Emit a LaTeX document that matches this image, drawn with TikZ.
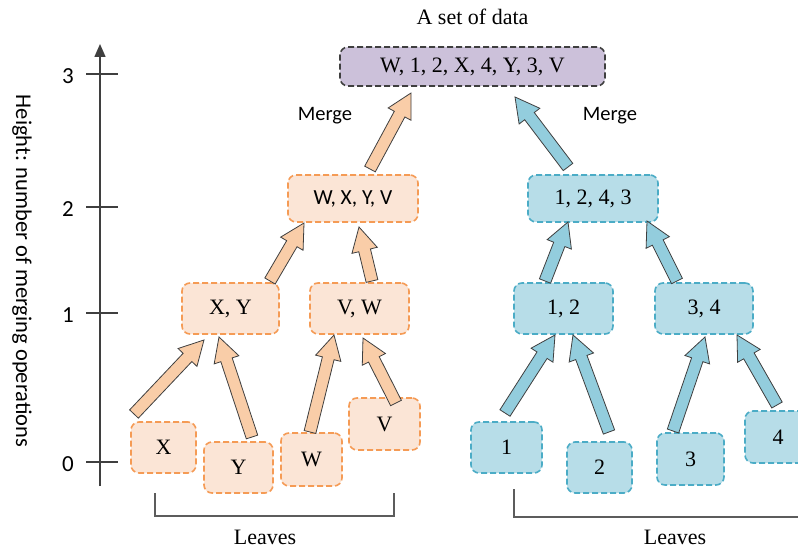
\documentclass[tikz,border=0pt]{standalone}
\usepackage{fontspec}
\setmainfont{Liberation Serif}
\newfontfamily\calfont{Carlito}
\usetikzlibrary{calc,arrows.meta}
\definecolor{orfill}{HTML}{FBE5D6}
\definecolor{ordraw}{HTML}{F59B55}
\definecolor{orarrow}{HTML}{F9CDA8}
\definecolor{blfill}{HTML}{B7DDE8}
\definecolor{bldraw}{HTML}{4BACC6}
\definecolor{blarrow}{HTML}{93CDDD}
\definecolor{pufill}{HTML}{CCC1DA}
\definecolor{darkline}{HTML}{3F3F3F}
\newcommand{\blockarrow}[3]{%
  \coordinate (bah) at ($(#3)!24pt!(#2)$);
  \draw[#1] ($(#2)!6pt!90:(#3)$) -- ($(bah)!6pt!90:(#3)$) -- ($(bah)!13pt!90:(#3)$) -- (#3)
    -- ($(bah)!13pt!-90:(#3)$) -- ($(bah)!6pt!-90:(#3)$) -- ($(#2)!6pt!-90:(#3)$) -- cycle;
}
\begin{document}
\begin{tikzpicture}[x=1pt,y=-1pt,
  box/.style={rounded corners=8pt, dash pattern=on 6pt off 3pt, line width=1.6pt, inner sep=0pt,
    font=\fontsize{22}{26}\selectfont},
  obox/.style={box, fill=orfill, draw=ordraw},
  bbox/.style={box, fill=blfill, draw=bldraw},
  pbox/.style={box, fill=pufill, draw=darkline},
  oarrow/.style={fill=orarrow, draw=darkline, line width=0.8pt},
  barrow/.style={fill=blarrow, draw=darkline, line width=0.8pt},
  serif/.style={font=\fontsize{22}{26}\selectfont},
  sans/.style={font=\calfont\fontsize{20.5}{24}\selectfont},
  ticklab/.style={font=\calfont\fontsize{23}{26}\selectfont},
  axlab/.style={font=\calfont\fontsize{22.5}{26}\selectfont},
  axisline/.style={draw=darkline, line width=1.5pt},
  bracket/.style={draw=darkline!85, line width=1.4pt}]
\clip (0,0) rectangle (798,548);
\fill[white] (0,0) rectangle (798,548);

% axis
\coordinate (axb) at (100,486);
\coordinate (axt) at (100,44);
\draw[axisline, -{Triangle[width=11pt,length=13pt]}] (axb) -- (axt);
\foreach \yy/\lab in {74/3, 207/2, 313/1, 462/0} {
  \coordinate (tl\lab) at (86,\yy);
  \coordinate (tr\lab) at (118,\yy);
  \draw[axisline] (tl\lab) -- (tr\lab);
  \node[ticklab, anchor=center] (tk\lab) at (68,\yy+2) {\lab};
}
\node[axlab, rotate=-90] (ylab) at (22,271) {Height: number of merging operations};

% title and labels
\node[serif] (title) at (472.5,17) {A set of data};
\node[sans] (mergeL) at (325,116) {Merge};
\node[sans] (mergeR) at (610,116) {Merge};

% top
\node[pbox, minimum width=265pt, minimum height=39pt] (top) at (472.5,66.5) {W, 1, 2, X, 4, Y, 3, V};

% level 2
\node[obox, minimum width=130pt, minimum height=47pt, font=\calfont\fontsize{21.5}{25}\selectfont] (wxyv) at (353,198.5) {W, X, Y, V};
\node[bbox, minimum width=130pt, minimum height=47pt] (n1243) at (593,198.5) {1, 2, 4, 3};

% level 1
\node[obox, minimum width=97pt, minimum height=51pt] (xy) at (230.5,308.5) {X, Y};
\node[obox, minimum width=99pt, minimum height=51pt] (vw) at (359.5,308.5) {V, W};
\node[bbox, minimum width=99pt, minimum height=51pt] (n12) at (563.5,308.5) {1, 2};
\node[bbox, minimum width=98pt, minimum height=51pt] (n34) at (704,308.5) {3, 4};

% leaves
\node[obox, minimum width=65pt, minimum height=51pt] (lX) at (163.5,447.5) {X};
\node[obox, minimum width=69pt, minimum height=51pt] (lY) at (238.5,467.5) {Y};
\node[obox, minimum width=61pt, minimum height=53pt] (lW) at (311.5,459.5) {W};
\node[obox, minimum width=71pt, minimum height=52pt] (lV) at (384.5,424) {V};
\node[bbox, minimum width=71pt, minimum height=51pt] (l1) at (506.5,447.5) {1};
\node[bbox, minimum width=65pt, minimum height=51pt] (l2) at (599.5,467.5) {2};
\node[bbox, minimum width=67pt, minimum height=52pt] (l3) at (690.5,459) {3};
\node[bbox, minimum width=66pt, minimum height=52pt] (l4) at (778,437) {4};

% arrow endpoints
\coordinate (sX) at (134,414);   \coordinate (eX) at (204,340);
\coordinate (sY) at (252,437);   \coordinate (eY) at (219,337);
\coordinate (sW) at (310,432);   \coordinate (eW) at (334,335);
\coordinate (sV) at (396,403);   \coordinate (eV) at (363,338);
\coordinate (sXY) at (270,281);  \coordinate (eXY) at (304,223);
\coordinate (sVW) at (372,281);  \coordinate (eVW) at (359,227);
\coordinate (sO) at (370,169);   \coordinate (eO) at (411,93);
\coordinate (sB) at (568,167);   \coordinate (eB) at (515,97);
\coordinate (s12) at (545,281);  \coordinate (e12) at (568,222);
\coordinate (s34) at (677,281);  \coordinate (e34) at (647,221);
\coordinate (s1) at (505,413);   \coordinate (e1) at (555,335);
\coordinate (s2) at (609,432);   \coordinate (e2) at (573,335);
\coordinate (s3) at (673,431);   \coordinate (e3) at (705,337);
\coordinate (s4) at (777,405);   \coordinate (e4) at (737,335);

\blockarrow{oarrow}{sX}{eX}
\blockarrow{oarrow}{sY}{eY}
\blockarrow{oarrow}{sW}{eW}
\blockarrow{oarrow}{sV}{eV}
\blockarrow{oarrow}{sXY}{eXY}
\blockarrow{oarrow}{sVW}{eVW}
\blockarrow{oarrow}{sO}{eO}
\blockarrow{barrow}{sB}{eB}
\blockarrow{barrow}{s12}{e12}
\blockarrow{barrow}{s34}{e34}
\blockarrow{barrow}{s1}{e1}
\blockarrow{barrow}{s2}{e2}
\blockarrow{barrow}{s3}{e3}
\blockarrow{barrow}{s4}{e4}

% brackets
\coordinate (bl1) at (155,493); \coordinate (bl2) at (155,516);
\coordinate (bl3) at (394,516); \coordinate (bl4) at (394,493);
\draw[bracket] (bl1) -- (bl2) -- (bl3) -- (bl4);
\coordinate (br1) at (514,489); \coordinate (br2) at (514,517);
\coordinate (br3) at (830,517);
\draw[bracket] (br1) -- (br2) -- (br3);
\node[serif] (leavesL) at (265,537) {Leaves};
\node[serif] (leavesR) at (675,537) {Leaves};
\end{tikzpicture}
\end{document}
